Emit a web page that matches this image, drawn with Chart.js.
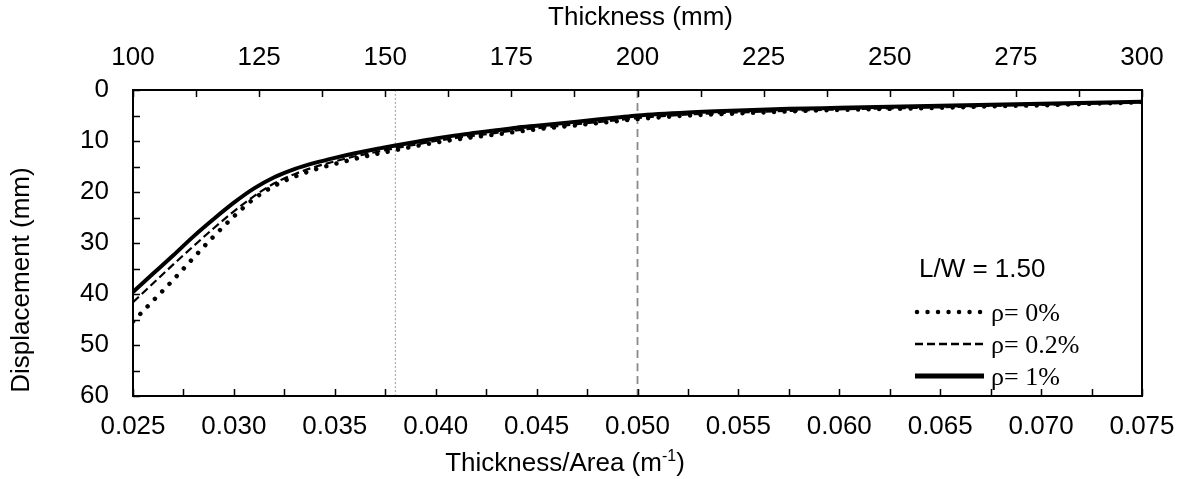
<!DOCTYPE html>
<html><head><meta charset="utf-8">
<script src="https://cdn.jsdelivr.net/npm/chart.js@4/dist/chart.umd.min.js"></script>
<style>html,body{margin:0;padding:0;background:#fff}</style>
</head><body>
<canvas id="c" width="1181" height="479"></canvas>
<script>
// ---- data ----
const thicknessPerArea = [0.025,0.026,0.027,0.028,0.029,0.030,0.031,0.032,0.033,0.034,0.035,0.036,0.037,0.038,0.039,0.040,0.041,0.042,0.043,0.044,0.045,0.046,0.047,0.048,0.049,0.050,0.0525,0.055,0.0575,0.060,0.0625,0.065,0.0675,0.070,0.0725,0.075];
const rho0   = [45.4,41.3,37.2,32.9,28.7,24.8,21.3,18.8,17.0,15.6,14.5,13.5,12.6,11.8,11.0,10.3,9.7,9.2,8.7,8.2,7.7,7.3,6.9,6.5,6.1,5.7,5.0,4.6,4.2,3.9,3.7,3.5,3.2,3.0,2.7,2.4];
const rho02  = [41.6,37.9,34.2,30.6,27.1,23.8,20.8,18.3,16.5,15.1,14.0,13.0,12.2,11.4,10.7,10.0,9.4,8.9,8.4,7.9,7.5,7.1,6.7,6.3,5.9,5.5,4.8,4.4,4.1,3.8,3.6,3.4,3.1,2.9,2.7,2.4];
const rho1   = [39.6,36.0,32.4,28.7,25.3,22.1,19.3,17.1,15.5,14.3,13.3,12.4,11.6,10.9,10.2,9.5,8.9,8.4,7.9,7.4,7.0,6.6,6.2,5.8,5.4,5.0,4.4,4.0,3.7,3.5,3.3,3.1,2.9,2.7,2.5,2.3];
const seriesLabels = ["\u03c1= 0%", "\u03c1= 0.2%", "\u03c1= 1%"];
const refLineX = [0.038, 0.050];
const dispRange = [0, 60];
const xRange = [0.025, 0.075];
const thickRange = [100, 300];
const annotationText = "L/W = 1.50";
const titles = {bottom: "Thickness/Area (m", bottomSup: "-1", bottomEnd: ")", top: "Thickness (mm)", left: "Displacement (mm)"};

const pts = arr => thicknessPerArea.map((x,i)=>({x:x, y:arr[i]}));
const vline = x => [{x:x,y:dispRange[0]},{x:x,y:dispRange[1]}];

const SANS = '"Liberation Sans", Arial, sans-serif';
const SERIF = '"Liberation Serif", "Times New Roman", serif';
const FS = 26;

const styles = [
  {borderColor:'#000', borderWidth:4.5, borderDash:[0.01,10.5], borderCapStyle:'round'},
  {borderColor:'#000', borderWidth:2.2, borderDash:[8,4], borderCapStyle:'butt'},
  {borderColor:'#000', borderWidth:4, borderDash:[], borderCapStyle:'butt'}
];

const datasets = [
  Object.assign({label:seriesLabels[0], data:pts(rho0)}, styles[0]),
  Object.assign({label:seriesLabels[1], data:pts(rho02)}, styles[1]),
  Object.assign({label:seriesLabels[2], data:pts(rho1)}, styles[2]),
  {label:'ref1', data:vline(refLineX[0]), borderColor:'#9a9a9a', borderWidth:1, borderDash:[2,2]},
  {label:'ref2', data:vline(refLineX[1]), borderColor:'#8a8a8a', borderWidth:1.8, borderDash:[8,5]}
];
datasets.forEach(d=>{d.pointRadius=0; d.fill=false; d.cubicInterpolationMode='monotone'; d.xAxisID='x'; d.yAxisID='y';});

const near = (v, step) => Math.abs(v/step - Math.round(v/step)) < 1e-6;

const frame = {
  id:'frame',
  afterDraw(chart){
    const ctx = chart.ctx, a = chart.chartArea;
    const sx = chart.scales.x, st = chart.scales.x2, sy = chart.scales.y;
    ctx.save();
    ctx.strokeStyle = '#000';
    ctx.lineWidth = 2;
    ctx.strokeRect(a.left, a.top, a.right-a.left, a.bottom-a.top);
    const tl = 7;
    ctx.lineWidth = 1.5;
    ctx.beginPath();
    sx.ticks.forEach(t=>{const p=Math.round(sx.getPixelForValue(t.value))+0.5; ctx.moveTo(p,a.bottom); ctx.lineTo(p,a.bottom-tl);});
    st.ticks.forEach(t=>{const p=Math.round(st.getPixelForValue(t.value))+0.5; ctx.moveTo(p,a.top); ctx.lineTo(p,a.top+tl);});
    sy.ticks.forEach(t=>{const p=Math.round(sy.getPixelForValue(t.value))+0.5; ctx.moveTo(a.left,p); ctx.lineTo(a.left+tl,p);});
    ctx.stroke();

    ctx.fillStyle = '#000';
    // top title
    ctx.font = FS + 'px ' + SANS;
    ctx.textAlign = 'center'; ctx.textBaseline = 'middle';
    ctx.fillText(titles.top, (a.left+a.right)/2 + 3, 18);
    // left title
    ctx.save();
    ctx.translate(22, a.top + 190);
    ctx.rotate(-Math.PI/2);
    ctx.fillText(titles.left, 0, 0);
    ctx.restore();
    // bottom title with superscript
    ctx.textAlign = 'left'; ctx.textBaseline = 'alphabetic';
    ctx.font = FS + 'px ' + SANS;
    const w1 = ctx.measureText(titles.bottom).width;
    ctx.font = '16px ' + SANS;
    const w2 = ctx.measureText(titles.bottomSup).width;
    ctx.font = FS + 'px ' + SANS;
    const w3 = ctx.measureText(titles.bottomEnd).width;
    let bx = a.left + 432 - (w1+w2+w3)/2;
    const by = 471;
    ctx.fillText(titles.bottom, bx, by);
    ctx.font = '16px ' + SANS;
    ctx.fillText(titles.bottomSup, bx + w1, by - 10);
    ctx.font = FS + 'px ' + SANS;
    ctx.fillText(titles.bottomEnd, bx + w1 + w2, by);

    // annotation
    ctx.font = FS + 'px ' + SANS;
    ctx.fillText(annotationText, 919, 277);

    // legend
    const rows = [312, 344, 376];
    for (let i=0;i<3;i++){
      const d = chart.data.datasets[i];
      ctx.save();
      ctx.strokeStyle = d.borderColor;
      ctx.lineWidth = i===2 ? 5 : (i===0 ? 4.5 : 2.5);
      ctx.setLineDash(d.borderDash);
      ctx.lineCap = i===0 ? 'round' : 'butt';
      ctx.beginPath();
      ctx.moveTo(i===0?917:915, rows[i]); ctx.lineTo(984, rows[i]);
      ctx.stroke();
      ctx.restore();
      ctx.font = '26px ' + SERIF;
      ctx.textBaseline = 'alphabetic';
      ctx.fillText(d.label, 991, rows[i] + 9);
    }
    ctx.restore();
  }
};

const fixH = h => s => { s.height = h; s.paddingLeft = 0; s.paddingRight = 0; };

new Chart(document.getElementById('c'), {
  type:'line',
  data:{datasets:datasets},
  options:{
    responsive:false, animation:false,
    layout:{padding:{left:0,right:39,top:0,bottom:0}},
    plugins:{legend:{display:false}, tooltip:{enabled:false}},
    scales:{
      x:{type:'linear', position:'bottom', min:xRange[0], max:xRange[1],
         ticks:{stepSize:0.0025, autoSkip:false, maxRotation:0, padding:15, color:'#000', font:{family:SANS,size:FS},
                callback:v=> near(v,0.005) ? v.toFixed(3) : ''},
         grid:{display:false, drawTicks:false}, border:{display:false},
         afterFit:fixH(83)},
      x2:{type:'linear', position:'top', display:true, min:thickRange[0], max:thickRange[1],
         ticks:{stepSize:12.5, autoSkip:false, maxRotation:0, padding:17, color:'#000', font:{family:SANS,size:FS},
                callback:v=> near(v,25) ? String(Math.round(v)) : ''},
         grid:{display:false, drawTicks:false}, border:{display:false},
         afterFit:fixH(90)},
      y:{type:'linear', position:'left', reverse:true, min:dispRange[0], max:dispRange[1],
         ticks:{stepSize:5, autoSkip:false, padding:24, color:'#000', font:{family:SANS,size:FS},
                callback:v=> near(v,10) ? String(Math.round(v)) : ''},
         grid:{display:false, drawTicks:false}, border:{display:false},
         afterFit:s=>{s.width=133; s.paddingTop=0; s.paddingBottom=0;}}
    }
  },
  plugins:[frame]
});
</script>
</body></html>
